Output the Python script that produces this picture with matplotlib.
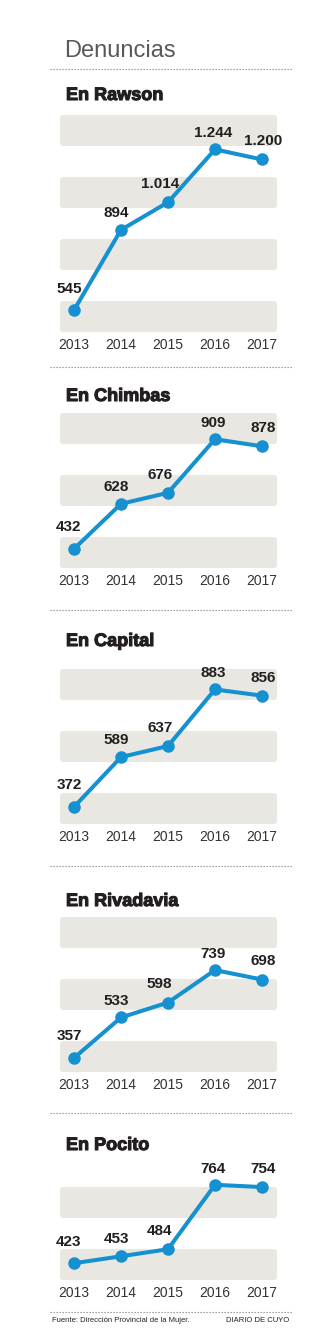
import matplotlib.pyplot as plt
import matplotlib.patheffects as pe
from matplotlib.lines import Line2D
from matplotlib.patches import FancyBboxPatch

plt.rcParams['font.family'] = ['Liberation Sans', 'DejaVu Sans']

years = ['2013', '2014', '2015', '2016', '2017']
names = ['En Rawson', 'En Chimbas', 'En Capital', 'En Rivadavia', 'En Pocito']
rawson = [545, 894, 1014, 1244, 1200]
chimbas = [432, 628, 676, 909, 878]
capital = [372, 589, 637, 883, 856]
rivadavia = [357, 533, 598, 739, 698]
pocito = [423, 453, 484, 764, 754]
series = [rawson, chimbas, capital, rivadavia, pocito]

W, H = 327, 1328
BLUE = '#1590d0'
BAND = '#e8e7e1'
DARK = '#231f20'
PX_PER_UNIT = 0.23

# layout per panel (pixels from top): title baseline, band area bottom, number of bands, y-axis bottom value
title_base = [100, 401, 646, 906, 1150]
band_bottom = [332, 568, 824, 1072, 1280]
n_bands = [4, 3, 3, 3, 2]
ymin = [450, 349, 298, 296, 350]
dotted = [69, 367, 610, 866, 1113, 1312]
# label offsets (points) by year position
offs = [(-3.6, 15.5), (-3.6, 12.2), (-6.0, 13.0), (-1.4, 11.5), (0.7, 13.0)]

fig = plt.figure(figsize=(W / 100, H / 100), dpi=100)


def fx(x):
    return x / W


def fy(y):
    return 1 - y / H


fig.text(fx(64), fy(57), 'Denuncias', fontsize=17, color='#58595b', va='baseline')

for y in dotted:
    fig.add_artist(Line2D([fx(50), fx(292)], [fy(y), fy(y)], transform=fig.transFigure,
                          color='#808080', lw=0.8, linestyle=(0, (1.1, 1.6))))

x0, x1 = 60, 277
for k, vals in enumerate(series):
    nb = n_bands[k]
    hpx = 62 * (nb - 1) + 31
    bot = band_bottom[k]
    ax = fig.add_axes([fx(x0), fy(bot), (x1 - x0) / W, hpx / H])
    ax.patch.set_visible(False)
    for s in ax.spines.values():
        s.set_visible(False)

    for i in range(nb):
        yb = (H - bot + 62 * i) / 100
        band = FancyBboxPatch((x0 / 100, yb), (x1 - x0) / 100, 0.31,
                              boxstyle='round,pad=0,rounding_size=0.03',
                              transform=fig.dpi_scale_trans, facecolor=BAND,
                              edgecolor='none', zorder=0)
        ax.add_patch(band)

    xs = list(range(len(years)))
    ax.plot(xs, vals, color=BLUE, lw=2.9, marker='o', ms=8, clip_on=False,
            solid_capstyle='round', solid_joinstyle='round', zorder=3)
    for i, v in enumerate(vals):
        ax.annotate(f'{v:,}'.replace(',', '.'), (i, v), xytext=offs[i],
                    textcoords='offset points', ha='center', va='center',
                    fontsize=11, fontweight='bold', color=DARK, zorder=4,
                    annotation_clip=False)

    ax.set_xlim(-(74 - x0) / 47, 4 + (x1 - 262) / 47)
    ax.set_ylim(ymin[k], ymin[k] + hpx / PX_PER_UNIT)
    ax.set_yticks([])
    ax.set_xticks(xs)
    ax.set_xticklabels(years, fontsize=10, color='#333333')
    ax.tick_params(length=0, pad=4.5)

    fig.text(fx(66), fy(title_base[k]), names[k], va='baseline', fontsize=13,
             fontweight='bold', color=DARK,
             path_effects=[pe.withStroke(linewidth=0.8, foreground=DARK)])

fig.text(fx(52), fy(1321), 'Fuente: Dirección Provincial de la Mujer.', fontsize=5.5,
         va='center', color=DARK)
fig.text(fx(289), fy(1321), 'DIARIO DE CUYO', fontsize=5.5, ha='right', va='center',
         color=DARK)

fig.savefig('out.png', dpi=100)
